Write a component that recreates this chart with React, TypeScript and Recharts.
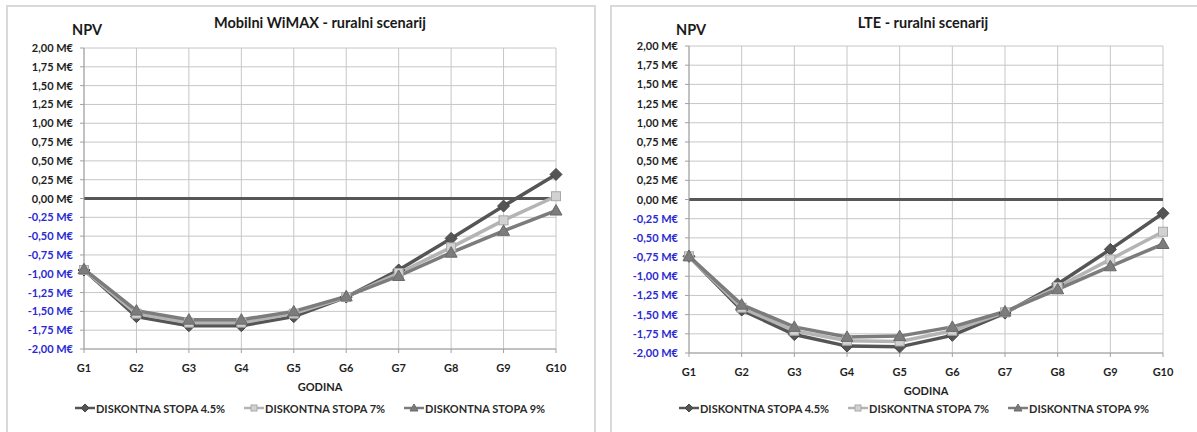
import React from 'react';
import {
  LineChart,
  Line,
  XAxis,
  YAxis,
  CartesianGrid,
  ReferenceLine,
  Legend
} from 'recharts';

const years = ['G1', 'G2', 'G3', 'G4', 'G5', 'G6', 'G7', 'G8', 'G9', 'G10'];

// Mobilni WiMAX (M€)
const wimax45 = [-0.95, -1.57, -1.69, -1.69, -1.57, -1.31, -0.95, -0.53, -0.1, 0.32];
const wimax7 = [-0.95, -1.53, -1.65, -1.65, -1.53, -1.31, -0.99, -0.65, -0.29, 0.03];
const wimax9 = [-0.94, -1.49, -1.61, -1.61, -1.5, -1.3, -1.03, -0.72, -0.43, -0.16];

// LTE (M€)
const lte45 = [-0.74, -1.44, -1.76, -1.91, -1.92, -1.77, -1.48, -1.1, -0.65, -0.18];
const lte7 = [-0.74, -1.41, -1.71, -1.84, -1.85, -1.71, -1.47, -1.14, -0.78, -0.42];
const lte9 = [-0.74, -1.37, -1.66, -1.79, -1.78, -1.66, -1.46, -1.17, -0.87, -0.58];

const yTicks = [-2, -1.75, -1.5, -1.25, -1, -0.75, -0.5, -0.25, 0, 0.25, 0.5, 0.75, 1, 1.25, 1.5, 1.75, 2];

const seriesNames = ['DISKONTNA STOPA 4.5%', 'DISKONTNA STOPA 7%', 'DISKONTNA STOPA 9%'];

const FONT = 'Lato, "Open Sans", sans-serif';
const C45 = '#555555';
const C7 = '#b4b4b4';
const C9 = '#7c7c7c';

const fmt = (v: number) => v.toFixed(2).replace('.', ',') + ' M€';

const YTick = (props: any) => {
  const { x, y, payload } = props;
  const v = payload.value as number;
  return (
    <text
      x={x}
      y={y}
      dy={4}
      textAnchor="end"
      fontFamily={FONT}
      fontWeight={700}
      fontSize={11}
      fill={v < 0 ? '#2a2ad2' : '#1e1e1e'}
    >
      {fmt(v)}
    </text>
  );
};

// s = half size of the marker
const marker = (kind: string, cx: number, cy: number, s: number, key?: any) => {
  if (kind === 's45') {
    return (
      <path
        key={key}
        d={`M${cx},${cy - s} L${cx + s},${cy} L${cx},${cy + s} L${cx - s},${cy} Z`}
        fill={C45}
        stroke="#454545"
        strokeWidth={1}
      />
    );
  }
  if (kind === 's7') {
    const h = s * 0.75;
    return (
      <rect key={key} x={cx - h} y={cy - h} width={h * 2} height={h * 2} fill="#d2d2d2" stroke="#a8a8a8" strokeWidth={1} />
    );
  }
  return (
    <path
      key={key}
      d={`M${cx},${cy - s} L${cx + s},${cy + s * 0.75} L${cx - s},${cy + s * 0.75} Z`}
      fill={C9}
      stroke="#6a6a6a"
      strokeWidth={1}
    />
  );
};

const makeDot = (kind: string) => (p: any) => {
  if (p.cx == null || p.cy == null) return <g key={p.key} />;
  return marker(kind, p.cx, p.cy, 6, p.key);
};

const LegendContent = () => {
  const keys = ['s45', 's7', 's9'];
  const colors = [C45, C7, C9];
  return (
    <div style={{ display: 'flex', alignItems: 'center', fontFamily: FONT, fontWeight: 700, fontSize: 11, color: '#2a2a2a' }}>
      {keys.map((k, i) => (
        <div key={k} style={{ display: 'flex', alignItems: 'center', marginRight: 19 }}>
          <svg width={20} height={14} style={{ marginRight: 1 }}>
            <line x1={0} y1={7} x2={20} y2={7} stroke={colors[i]} strokeWidth={2.5} />
            {marker(k, 10, 7, 4)}
          </svg>
          <span>{seriesNames[i]}</span>
        </div>
      ))}
    </div>
  );
};

interface PanelProps {
  left: number;
  width: number;
  title: string;
  titleCenter: number;
  a: number[];
  b: number[];
  c: number[];
  plotTop: number;
  plotBottom: number;
  plotLeft: number;
  plotRight: number;
}

const H = 427;
const XH = 44;

const Panel = ({ left, width, title, titleCenter, a, b, c, plotTop, plotBottom, plotLeft, plotRight }: PanelProps) => {
  const data = years.map((g, i) => ({ g, s45: a[i], s7: b[i], s9: c[i] }));
  return (
    <>
      <div
        style={{
          position: 'absolute',
          left,
          top: 5,
          width: width,
          height: 440,
          border: '2px solid #d9d9d9',
          boxSizing: 'border-box',
          background: '#fff'
        }}
      />
      <div
        style={{
          position: 'absolute',
          left: titleCenter - 200,
          width: 400,
          top: 16,
          textAlign: 'center',
          fontFamily: FONT,
          fontWeight: 700,
          fontSize: 14.5,
          lineHeight: 1,
          color: '#1a1a1a'
        }}
      >
        {title}
      </div>
      <div
        style={{
          position: 'absolute',
          left: left + 66,
          top: 23,
          fontFamily: FONT,
          fontWeight: 700,
          fontSize: 14.5,
          lineHeight: 1,
          color: '#1a1a1a'
        }}
      >
        NPV
      </div>
      <div style={{ position: 'absolute', left, top: 5 }}>
        <LineChart
          width={width}
          height={H}
          data={data}
          margin={{ top: plotTop, right: width - plotRight, left: 0, bottom: H - plotBottom - XH }}
        >
          <CartesianGrid stroke="#c6c6c6" strokeWidth={1} />
          <XAxis
            dataKey="g"
            height={XH}
            interval={0}
            stroke="#a0a0a0"
            tickSize={4}
            tickMargin={11}
            tick={{ fontFamily: FONT, fontWeight: 700, fontSize: 11, fill: '#1e1e1e' }}
            label={{
              value: 'GODINA',
              position: 'insideBottom',
              offset: 2,
              style: { fontFamily: FONT, fontWeight: 700, fontSize: 11, fill: '#1e1e1e' }
            }}
          />
          <YAxis
            width={plotLeft}
            domain={[-2, 2]}
            ticks={yTicks}
            interval={0}
            stroke="#a0a0a0"
            tickSize={4}
            tickMargin={7}
            tick={<YTick />}
          />
          <ReferenceLine y={0} stroke="#575757" strokeWidth={3} />
          <Line
            dataKey="s45"
            name={seriesNames[0]}
            stroke={C45}
            strokeWidth={3.5}
            dot={makeDot('s45')}
            activeDot={false}
            isAnimationActive={false}
          />
          <Line
            dataKey="s7"
            name={seriesNames[1]}
            stroke={C7}
            strokeWidth={3.5}
            dot={makeDot('s7')}
            activeDot={false}
            isAnimationActive={false}
          />
          <Line
            dataKey="s9"
            name={seriesNames[2]}
            stroke={C9}
            strokeWidth={3.5}
            dot={makeDot('s9')}
            activeDot={false}
            isAnimationActive={false}
          />
          <Legend
            layout="horizontal"
            verticalAlign="middle"
            align="center"
            content={<LegendContent />}
            wrapperStyle={{ top: 396, left: 69, width: width - 69 }}
          />
        </LineChart>
      </div>
    </>
  );
};

export default function App() {
  return (
    <div
      style={{
        position: 'absolute',
        left: 0,
        top: 0,
        width: 1197,
        height: 432,
        overflow: 'hidden',
        background: '#fff'
      }}
    >
      <Panel
        left={6}
        width={590}
        title="Mobilni WiMAX - ruralni scenarij"
        titleCenter={320}
        a={wimax45}
        b={wimax7}
        c={wimax9}
        plotTop={43}
        plotBottom={344}
        plotLeft={78}
        plotRight={550}
      />
      <Panel
        left={610}
        width={590}
        title="LTE - ruralni scenarij"
        titleCenter={923}
        a={lte45}
        b={lte7}
        c={lte9}
        plotTop={41}
        plotBottom={348}
        plotLeft={79}
        plotRight={553}
      />
    </div>
  );
}
